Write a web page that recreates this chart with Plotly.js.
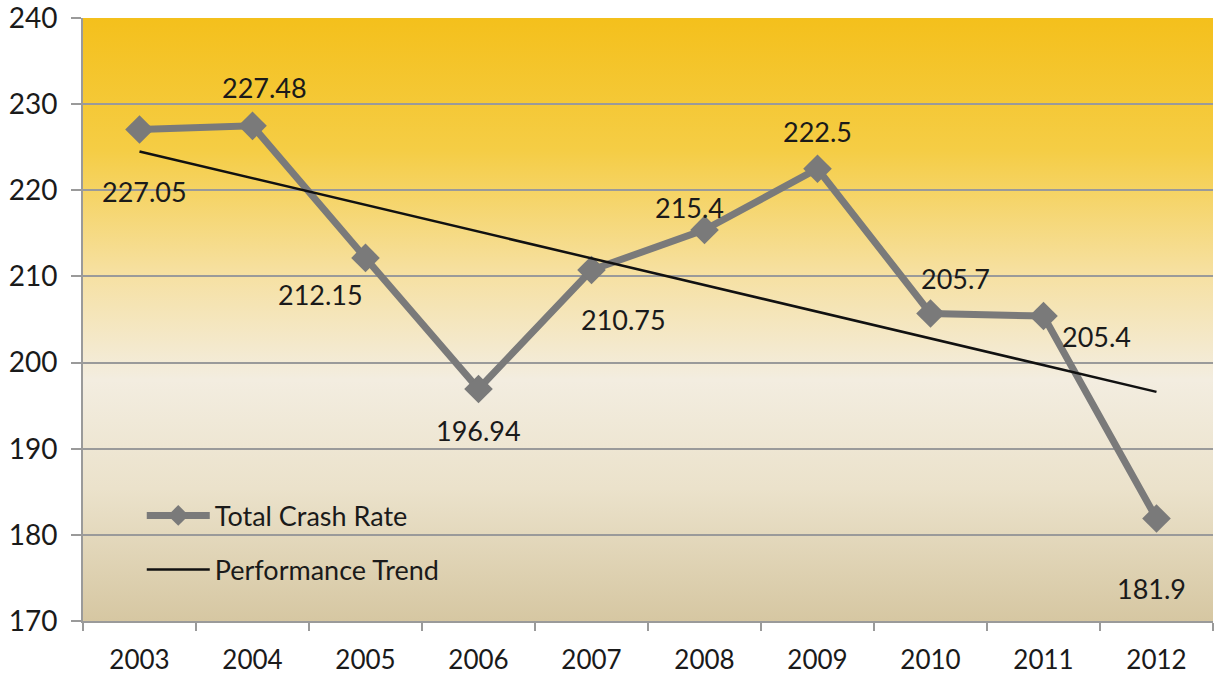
<!DOCTYPE html>
<html>
<head>
<meta charset="utf-8">
<script src="https://cdn.plot.ly/plotly-3.0.1.min.js"></script>
<style>html,body{margin:0;padding:0;background:#fff;}#chart{width:1214px;height:675px;}</style>
</head>
<body>
<div id="chart"></div>
<script>
// Data
const years = ['2003','2004','2005','2006','2007','2008','2009','2010','2011','2012'];
const crashRate = [227.05, 227.48, 212.15, 196.94, 210.75, 215.4, 222.5, 205.7, 205.4, 181.9];
const crashLabels = ['227.05','227.48','212.15','196.94','210.75','215.4','222.5','205.7','205.4','181.9'];
const trendYears = ['2003','2012'];
const trendValues = [224.5, 196.6];
const yTicks = [170, 180, 190, 200, 210, 220, 230, 240];

// Label placement (style only): [xshift, yshift]
const labelOffsets = [[5,-62],[12,38],[-45,-37],[0,-42],[32,-50],[-15,22],[0,37],[25,35],[53,-20],[-5,-70]];

const gradSvg = '<svg xmlns="http://www.w3.org/2000/svg" width="100" height="100" preserveAspectRatio="none">' +
  '<defs><linearGradient id="g" x1="0" y1="0" x2="0" y2="1">' +
  '<stop offset="0" stop-color="#f4c01c"/>' +
  '<stop offset="0.22" stop-color="#f5cd45"/>' +
  '<stop offset="0.42" stop-color="#f6e0a0"/>' +
  '<stop offset="0.6" stop-color="#f3ede0"/>' +
  '<stop offset="0.78" stop-color="#ebe2cb"/>' +
  '<stop offset="1" stop-color="#d6c7a2"/>' +
  '</linearGradient></defs><rect width="100" height="100" fill="url(#g)"/></svg>';
const gradUri = 'data:image/svg+xml;base64,' + btoa(gradSvg);

const FONT = 'Lato, "Open Sans", "Liberation Sans", sans-serif';

const traces = [
  {
    x: years, y: crashRate, type: 'scatter', mode: 'lines+markers',
    name: 'Total Crash Rate',
    line: {color: '#7a7a7a', width: 7},
    marker: {symbol: 'diamond', size: 22, color: '#7a7a7a'},
    legendgroup: 'a', hoverinfo: 'skip'
  },
  {
    x: trendYears, y: trendValues, type: 'scatter', mode: 'lines',
    name: 'Performance Trend',
    line: {color: '#111', width: 2.5},
    legendgroup: 'b', hoverinfo: 'skip'
  }
];

const annotations = years.map((yr, i) => ({
  x: i, y: crashRate[i], xref: 'x', yref: 'y',
  text: crashLabels[i], showarrow: false,
  xshift: labelOffsets[i][0], yshift: labelOffsets[i][1],
  font: {family: FONT, size: 27, color: '#1a1a1a'}
}));

const layout = {
  width: 1214, height: 675,
  margin: {l: 83, r: 1, t: 18, b: 54, pad: 0},
  paper_bgcolor: '#ffffff',
  plot_bgcolor: 'rgba(0,0,0,0)',
  font: {family: FONT, size: 22, color: '#1a1a1a'},
  showlegend: true,
  legend: {
    x: 0.052, y: 0.215, xanchor: 'left', yanchor: 'top',
    bgcolor: 'rgba(0,0,0,0)', borderwidth: 0,
    font: {family: FONT, size: 27, color: '#1a1a1a'},
    traceorder: 'grouped', tracegroupgap: 16, itemwidth: 63
  },
  xaxis: {
    type: 'category', categoryorder: 'array', categoryarray: years,
    range: [-0.5, 9.5],
    showgrid: false, zeroline: false,
    showline: true, linecolor: '#9a9a9a', linewidth: 2,
    ticks: 'outside', tickson: 'boundaries', ticklen: 8, tickwidth: 2, tickcolor: '#9a9a9a',
    tickfont: {family: FONT, size: 26, color: '#1a1a1a'},
    ticklabelstandoff: 15, ticklabeloverflow: 'allow',
    fixedrange: true
  },
  yaxis: {
    range: [170, 240], tickvals: yTicks, ticktext: yTicks.map(String),
    showgrid: true, gridcolor: '#9a9a9a', gridwidth: 2,
    zeroline: false,
    showline: true, linecolor: '#9a9a9a', linewidth: 2,
    ticks: 'outside', ticklen: 10, tickwidth: 2, tickcolor: '#9a9a9a',
    tickfont: {family: FONT, size: 28, color: '#1a1a1a'},
    ticklabelstandoff: 8, ticklabeloverflow: 'allow',
    fixedrange: true
  },
  images: [{
    source: gradUri, xref: 'paper', yref: 'paper',
    x: 0, y: 1, sizex: 1, sizey: 1, xanchor: 'left', yanchor: 'top',
    sizing: 'stretch', layer: 'below'
  }],
  annotations: annotations
};

Plotly.newPlot('chart', traces, layout, {displayModeBar: false, staticPlot: true});
</script>
</body>
</html>
